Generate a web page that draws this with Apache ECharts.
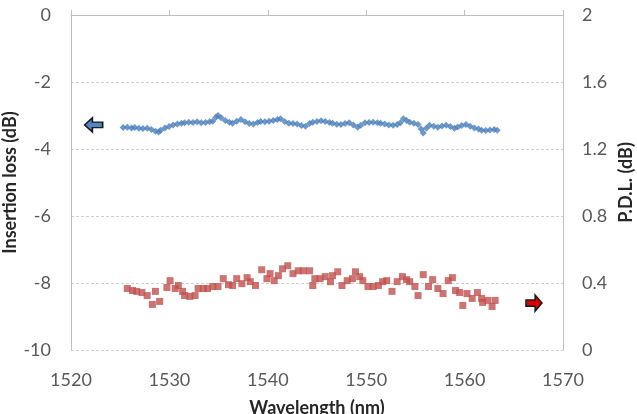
<!DOCTYPE html>
<html>
<head>
<meta charset="utf-8">
<script src="https://cdn.jsdelivr.net/npm/echarts@6/dist/echarts.min.js"></script>
<style>
  html, body { margin: 0; padding: 0; background: #fff; }
  #lossChart { width: 637px; height: 414px; }
</style>
</head>
<body>
<div id="lossChart"></div>
<script>
// 波长刻度
const xTicks = [1520, 1530, 1540, 1550, 1560, 1570];
const lossTicks = [-10, -8, -6, -4, -2, 0];
const pdlTicks = [0, 0.4, 0.8, 1.2, 1.6, 2];

// 插入损耗 (dB) — [wavelength, loss]
const insertionLoss = [
  [1525.30, -3.36], [1525.72, -3.35], [1526.15, -3.37], [1526.47, -3.36], [1526.89, -3.38],
  [1527.31, -3.39], [1527.74, -3.38], [1528.16, -3.42], [1528.58, -3.47], [1528.90, -3.49],
  [1529.11, -3.44], [1529.54, -3.37], [1529.96, -3.33], [1530.38, -3.28], [1530.81, -3.25],
  [1531.23, -3.23], [1531.55, -3.22], [1531.97, -3.20], [1532.40, -3.21], [1532.82, -3.19],
  [1533.24, -3.22], [1533.67, -3.21], [1534.09, -3.19], [1534.41, -3.17], [1534.72, -3.05],
  [1534.94, -3.00], [1535.25, -3.07], [1535.68, -3.15], [1536.10, -3.20], [1536.42, -3.23],
  [1536.84, -3.17], [1537.27, -3.12], [1537.69, -3.19], [1538.11, -3.24], [1538.54, -3.25],
  [1538.96, -3.21], [1539.28, -3.18], [1539.70, -3.19], [1540.13, -3.17], [1540.55, -3.15],
  [1540.97, -3.12], [1541.29, -3.10], [1541.71, -3.18], [1542.14, -3.23], [1542.56, -3.24],
  [1542.98, -3.25], [1543.41, -3.30], [1543.83, -3.32], [1544.25, -3.24], [1544.57, -3.20],
  [1545.00, -3.18], [1545.42, -3.16], [1545.84, -3.18], [1546.27, -3.21], [1546.58, -3.23],
  [1547.01, -3.26], [1547.43, -3.27], [1547.85, -3.24], [1548.28, -3.22], [1548.70, -3.28],
  [1549.13, -3.35], [1549.44, -3.29], [1549.87, -3.22], [1550.29, -3.21], [1550.71, -3.20],
  [1551.14, -3.22], [1551.46, -3.23], [1551.88, -3.25], [1552.30, -3.28], [1552.73, -3.29],
  [1553.15, -3.27], [1553.47, -3.22], [1553.78, -3.10], [1554.10, -3.15], [1554.42, -3.20],
  [1554.84, -3.23], [1555.27, -3.27], [1555.58, -3.40], [1555.80, -3.52], [1556.11, -3.38],
  [1556.43, -3.29], [1556.86, -3.32], [1557.28, -3.35], [1557.70, -3.31], [1558.13, -3.29],
  [1558.55, -3.33], [1558.97, -3.38], [1559.29, -3.34], [1559.71, -3.30], [1560.14, -3.27],
  [1560.56, -3.32], [1560.99, -3.37], [1561.41, -3.40], [1561.73, -3.44], [1562.15, -3.45],
  [1562.57, -3.43], [1563.00, -3.42], [1563.31, -3.44]
];

// 偏振相关损耗 P.D.L. (dB) — [wavelength, pdl]
const pdl = [
  [1525.72, 0.367], [1526.25, 0.355], [1526.68, 0.350], [1527.21, 0.343], [1527.74, 0.325],
  [1528.27, 0.272], [1528.58, 0.350], [1529.01, 0.290], [1529.75, 0.373], [1530.07, 0.414],
  [1530.59, 0.367], [1530.91, 0.385], [1531.34, 0.350], [1531.55, 0.325], [1532.08, 0.320],
  [1532.61, 0.325], [1532.92, 0.367], [1533.45, 0.367], [1533.88, 0.367], [1534.41, 0.379],
  [1534.94, 0.379], [1535.47, 0.426], [1536.00, 0.390], [1536.42, 0.385], [1536.84, 0.426],
  [1537.37, 0.396], [1537.90, 0.432], [1538.22, 0.408], [1538.75, 0.385], [1539.38, 0.479],
  [1539.91, 0.426], [1540.23, 0.456], [1540.65, 0.414], [1541.08, 0.444], [1541.50, 0.485],
  [1542.03, 0.503], [1542.56, 0.456], [1543.09, 0.473], [1543.62, 0.473], [1544.25, 0.473],
  [1544.57, 0.385], [1544.78, 0.426], [1545.31, 0.426], [1545.84, 0.438], [1546.37, 0.408],
  [1546.58, 0.444], [1547.11, 0.467], [1547.54, 0.385], [1548.07, 0.414], [1548.60, 0.426],
  [1548.91, 0.467], [1549.34, 0.438], [1549.66, 0.414], [1550.18, 0.379], [1550.71, 0.379],
  [1551.24, 0.385], [1551.67, 0.408], [1552.09, 0.414], [1552.62, 0.350], [1553.15, 0.408],
  [1553.68, 0.438], [1554.10, 0.420], [1554.42, 0.408], [1554.95, 0.379], [1555.27, 0.325],
  [1555.80, 0.450], [1556.33, 0.379], [1556.75, 0.420], [1557.28, 0.367], [1557.81, 0.337],
  [1558.34, 0.414], [1558.76, 0.432], [1559.08, 0.355], [1559.50, 0.343], [1559.82, 0.266],
  [1560.24, 0.337], [1560.77, 0.308], [1561.30, 0.343], [1561.73, 0.308], [1561.83, 0.284],
  [1562.36, 0.296], [1562.79, 0.260], [1563.10, 0.296]
];

// 箭头位置（数据坐标）
const lossArrow = [1522.3, -3.28];
const pdlArrow = [1567.05, 0.28];

const labelFont = { color: '#595959', fontSize: 18, fontFamily: 'Lato' };
const nameFont = { color: '#262626', fontSize: 18, fontWeight: 'bold', fontFamily: 'Lato' };
const fmt = v => String(Math.round(v * 10) / 10);

const myChart = echarts.init(document.getElementById('lossChart'));
const option = {
  animation: false,
  backgroundColor: '#fff',
  grid: { left: 71, right: 74, top: 15, bottom: 64, containLabel: false, outerBoundsMode: 'none' },
  xAxis: {
    type: 'value',
    min: xTicks[0],
    max: xTicks[xTicks.length - 1],
    interval: 10,
    name: 'Wavelength (nm)',
    nameLocation: 'middle',
    nameGap: 49,
    nameMoveOverlap: false,
    nameTextStyle: nameFont,
    axisLine: { lineStyle: { color: '#bfbfbf' } },
    axisTick: { inside: true, length: 5, lineStyle: { color: '#bfbfbf' } },
    axisLabel: Object.assign({ margin: 21, formatter: v => String(v) }, labelFont),
    splitLine: { show: false }
  },
  yAxis: [
    {
      type: 'value',
      min: lossTicks[0],
      max: lossTicks[lossTicks.length - 1],
      interval: 2,
      name: 'Insertion loss (dB)',
      nameLocation: 'middle',
      nameRotate: 90,
      nameGap: 52,
      nameMoveOverlap: false,
      nameTextStyle: nameFont,
      axisLine: { show: true, lineStyle: { color: '#bfbfbf' } },
      axisTick: { show: false },
      axisLabel: Object.assign({ margin: 20, formatter: fmt }, labelFont),
      splitLine: {
        show: true,
        showMaxLine: false,
        lineStyle: { color: '#d0d0d0', type: [3, 2] }
      }
    },
    {
      type: 'value',
      min: pdlTicks[0],
      max: pdlTicks[pdlTicks.length - 1],
      interval: 0.4,
      position: 'right',
      name: 'P.D.L. (dB)',
      nameLocation: 'middle',
      nameRotate: 90,
      nameGap: 54,
      nameMoveOverlap: false,
      nameTextStyle: nameFont,
      axisLine: { show: true, lineStyle: { color: '#bfbfbf' } },
      axisTick: { show: false },
      axisLabel: Object.assign({ margin: 19, formatter: fmt }, labelFont),
      splitLine: { show: false }
    }
  ],
  series: [
    {
      name: 'Insertion loss',
      type: 'scatter',
      yAxisIndex: 0,
      symbol: 'diamond',
      symbolSize: 7,
      itemStyle: { color: '#4a7ebb' },
      data: insertionLoss,
      markPoint: {
        symbol: 'path://M0,5 L6,0 L6,3 L14,3 L14,7 L6,7 L6,10 Z',
        symbolSize: [18, 14],
        itemStyle: { color: '#4f86c6', borderColor: '#1a1a1a', borderWidth: 1.5 },
        label: { show: false },
        data: [{ coord: lossArrow }]
      }
    },
    {
      name: 'P.D.L.',
      type: 'scatter',
      yAxisIndex: 1,
      symbol: 'rect',
      symbolSize: 7,
      itemStyle: { color: '#c0504d' },
      data: pdl,
      markPoint: {
        symbol: 'path://M14,5 L8,0 L8,3 L0,3 L0,7 L8,7 L8,10 Z',
        symbolSize: [16, 16],
        itemStyle: { color: '#e00000', borderColor: '#1a1a1a', borderWidth: 1.5 },
        label: { show: false },
        data: [{ coord: pdlArrow }]
      }
    }
  ]
};
myChart.setOption(option);
window.addEventListener('resize', function () {
  myChart.resize();
});
</script>
</body>
</html>
